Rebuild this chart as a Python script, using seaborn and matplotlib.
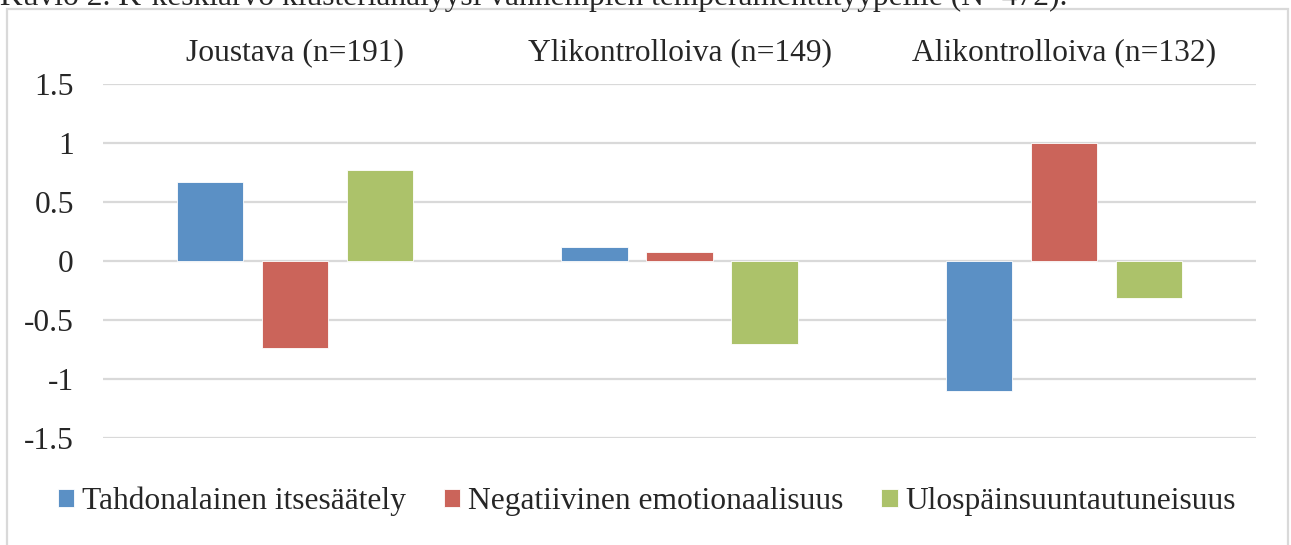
import matplotlib
matplotlib.use("Agg")
import matplotlib.pyplot as plt
import seaborn as sns
import pandas as pd
from matplotlib.patches import Rectangle

# klusterit ja temperamenttipiirteet
clusters = ["Joustava (n=191)", "Ylikontrolloiva (n=149)", "Alikontrolloiva (n=132)"]
traits = ["Tahdonalainen itsesäätely", "Negatiivinen emotionaalisuus", "Ulospäinsuuntautuneisuus"]
itsesaately = [0.67, 0.12, -1.10]
negatiivinen = [-0.74, 0.08, 1.00]
ulospain = [0.77, -0.70, -0.31]
yticks = [-1.5, -1, -0.5, 0, 0.5, 1, 1.5]
ytick_labels = ["-1.5", "-1", "-0.5", "0", "0.5", "1", "1.5"]
caption = "Kuvio 2. K-keskiarvo klusterianalyysi vanhempien temperamenttityypeille (N=472)."

colors = ["#5B90C5", "#CB645A", "#ACC26A"]

df = pd.DataFrame({
    "klusteri": clusters * 3,
    "piirre": [traits[0]] * 3 + [traits[1]] * 3 + [traits[2]] * 3,
    "arvo": itsesaately + negatiivinen + ulospain,
})

sns.set_style("white")
plt.rcParams["font.family"] = ["Liberation Serif", "DejaVu Serif"]
fs = 22.7

fig = plt.figure(figsize=(12.91, 5.45), dpi=100)
ax = fig.add_axes([103 / 1291, 1 - 438 / 545, (1256 - 103) / 1291, (438 - 84) / 545])

sns.barplot(data=df, x="klusteri", y="arvo", hue="piirre", order=clusters,
            hue_order=traits, palette=colors, width=0.664, gap=0.22,
            saturation=1, edgecolor="white", linewidth=0.6, ax=ax)

ax.set_ylim(-1.5, 1.5)
ax.set_yticks(yticks)
ax.set_yticklabels(ytick_labels)
ax.yaxis.grid(True, color="#d9d9d9", linewidth=1.6)
ax.set_axisbelow(True)
for s in ax.spines.values():
    s.set_visible(False)
ax.xaxis.tick_top()
ax.tick_params(axis="x", length=0, pad=12, labelsize=fs, labeltop=True, labelbottom=False)
ax.tick_params(axis="y", length=0, pad=21, labelsize=fs)
ax.set_xlabel("")
ax.set_ylabel("")

handles, labels = ax.get_legend_handles_labels()
ax.get_legend().remove()
fig.legend(handles, labels, loc="center", bbox_to_anchor=(0.501, 0.08), ncol=3,
           frameon=False, fontsize=fs, handlelength=0.52, handleheight=0.5,
           handletextpad=0.25, columnspacing=1.2)

# kehys ja ylös leikkautuva kuvateksti
fig.patches.append(Rectangle((7 / 1291, -0.02), (1288 - 7) / 1291, 1.02 - 9 / 545,
                             transform=fig.transFigure, fill=False,
                             edgecolor="#d9d9d9", linewidth=1.6))
fig.text(0.0, 1 - 5 / 545, caption, ha="left", va="baseline", fontsize=fs)

fig.savefig("out.png", dpi=100)
